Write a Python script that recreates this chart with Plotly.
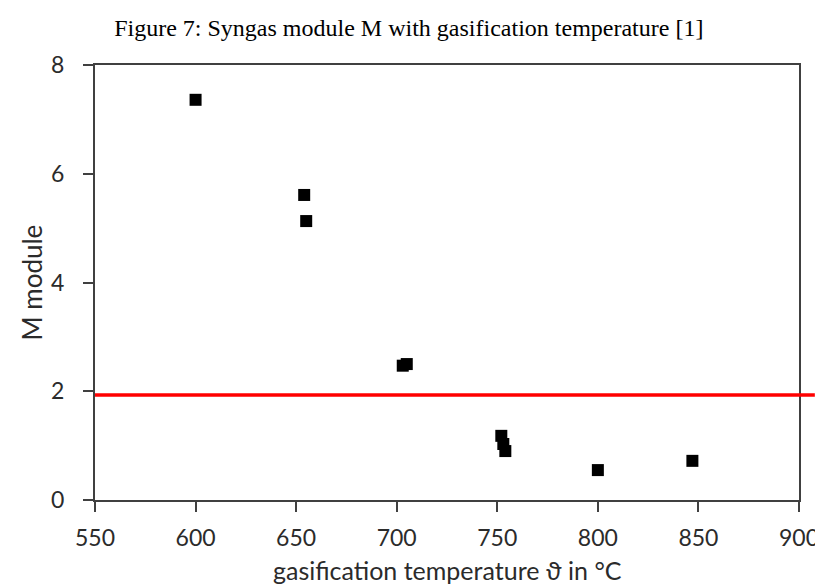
import plotly.graph_objects as go

# Data
temperature = [600, 654, 655, 703, 705, 752, 753, 754, 800, 847]
m_module = [7.36, 5.61, 5.13, 2.47, 2.50, 1.18, 1.03, 0.90, 0.55, 0.72]
threshold_m = 1.93
x_ticks = [550, 600, 650, 700, 750, 800, 850, 900]
y_ticks = [0, 2, 4, 6, 8]

fig = go.Figure()
fig.add_trace(go.Scatter(
    x=temperature, y=m_module, mode="markers",
    marker=dict(symbol="square", size=12, color="black", line=dict(width=0)),
    showlegend=False, cliponaxis=False,
))

fig.add_shape(type="line", xref="x domain", yref="y",
              x0=0, x1=1.0225, y0=threshold_m, y1=threshold_m,
              line=dict(color="#ff0000", width=3.5), layer="above")

sans = "Lato, Open Sans, sans-serif"
axis_font = dict(family=sans, size=23, color="#2b2b2b")
common = dict(showgrid=False, zeroline=False, showline=True, linecolor="#404040",
              linewidth=2, mirror=True, ticks="outside", ticklen=10,
              tickcolor="#404040", tickwidth=2, tickfont=axis_font)

fig.update_layout(
    width=823, height=587,
    margin=dict(l=87, r=25, t=57, b=95),
    paper_bgcolor="white", plot_bgcolor="white",
    title=dict(text="Figure 7: Syngas module M with gasification temperature [1]",
               x=0.487, xanchor="center", y=0.966, yanchor="middle",
               font=dict(family="Liberation Serif, Times New Roman, serif", size=24, color="black")),
    xaxis=dict(range=[550, 900], tickvals=x_ticks, ticklabelstandoff=6, **common),
    yaxis=dict(range=[0, 8], tickvals=y_ticks, ticklabelstandoff=14, **common),
    annotations=[
        dict(text="gasification temperature ϑ in °C", xref="paper", yref="paper",
             x=0.5, y=0, xanchor="center", yanchor="middle", yshift=-70,
             showarrow=False, font=dict(family=sans, size=25, color="#2b2b2b")),
        dict(text="M module", xref="paper", yref="paper",
             x=0, y=0.5, xanchor="center", yanchor="middle", xshift=-64,
             textangle=-90, showarrow=False, font=dict(family=sans, size=26, color="#2b2b2b")),
    ],
)

fig.write_html("out.html")
